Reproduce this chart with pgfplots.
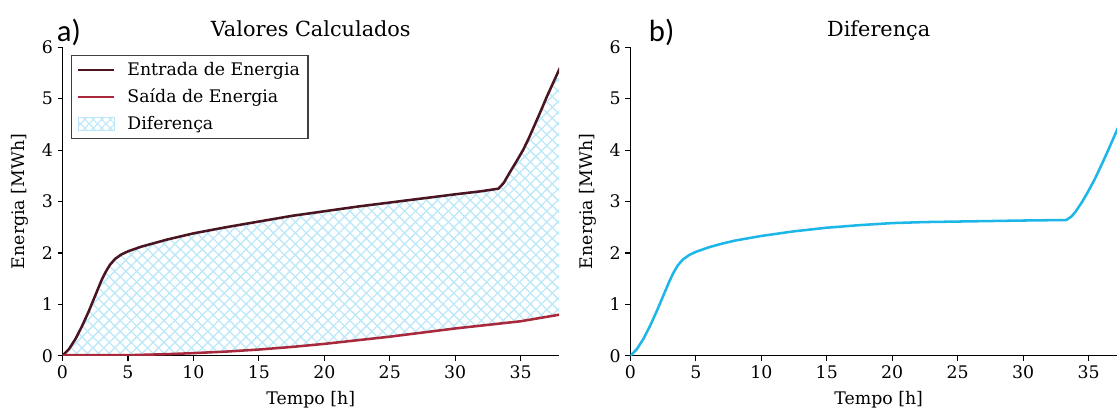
\documentclass[border=0pt]{standalone}
\usepackage{fontspec}
\setmainfont{DejaVu Serif}
\newfontfamily\labfont{Carlito}
\usepackage{pgfplots}
\pgfplotsset{compat=1.18}
\usepgfplotslibrary{fillbetween}
\usetikzlibrary{patterns.meta}
\definecolor{entr}{HTML}{4A1520}
\definecolor{said}{HTML}{A8283C}
\definecolor{difc}{HTML}{1DB6E8}
\definecolor{hatch}{HTML}{BDE8F8}

\pgfplotstableread{
x y
0 0
0.5 0.13
1 0.33
1.5 0.58
2 0.86
2.5 1.17
3 1.48
3.3 1.63
3.6 1.76
4 1.88
4.5 1.97
5 2.03
6 2.12
7 2.19
8 2.26
10 2.38
12.5 2.50
15 2.61
17.5 2.72
20 2.81
22.5 2.90
25 2.98
27.5 3.06
30 3.14
32 3.20
33.3 3.25
33.7 3.36
34.2 3.58
34.7 3.79
35.2 4.01
35.6 4.22
36 4.45
36.5 4.74
37 5.04
37.5 5.32
38 5.60
}\entrada

\pgfplotstableread{
x y
0 0.01
5 0.01
8 0.03
10 0.05
12.5 0.08
15 0.12
17.5 0.17
20 0.23
22.5 0.30
25 0.37
27.5 0.45
30 0.53
32.5 0.60
35 0.67
38 0.80
}\saida

\pgfplotstableread{
x y
0 0
0.5 0.13
1 0.33
1.5 0.58
2 0.86
2.5 1.16
3 1.46
3.3 1.62
3.6 1.75
4 1.87
4.5 1.96
5 2.02
6 2.11
7 2.18
8 2.24
10 2.33
12.5 2.42
15 2.49
17.5 2.54
20 2.58
22.5 2.60
25 2.61
27.5 2.62
30 2.63
33.3 2.64
33.7 2.71
34 2.80
34.5 2.99
35 3.21
35.5 3.45
36 3.72
36.5 4.00
37 4.29
37.5 4.58
38 4.88
}\diferenca

\pgfplotsset{
  myax/.style={
    scale only axis,
    width=372.4pt, height=231.3pt,
    xmin=0, xmax=37.93, ymin=0, ymax=6,
    axis x line*=bottom, axis y line*=left,
    axis line style={line width=0.9pt, black},
    tick align=outside,
    major tick length=3.75pt,
    tick style={line width=0.9pt, black},
    xtick={0,5,...,35}, ytick={0,1,...,6},
    /pgf/number format/assume math mode=true,
    tick label style={font=\fontsize{13}{15}\selectfont},
    label style={font=\fontsize{13}{15}\selectfont},
    xlabel={Tempo [h]}, ylabel={Energia [MWh]},
    xlabel style={at={(axis description cs:0.5,-0.1005)}, anchor=north},
    ylabel style={at={(axis description cs:-0.059,0.5)}, anchor=south},
    title style={at={(0.5,1)}, anchor=base, yshift=2pt, font=\fontsize{15.6}{18}\selectfont},
    clip=true,
  }
}

\begin{document}
\begin{tikzpicture}

\begin{axis}[myax, at={(46.875pt,39.225pt)}, anchor=south west,
  title={Valores Calculados},
  legend cell align=left,
  legend style={at={(0,1)}, anchor=north west, xshift=6.4pt, yshift=-6pt,
    draw=black!75, line width=0.8pt, font=\fontsize{13}{15}\selectfont,
    row sep=4.5pt, inner xsep=4pt, inner ysep=3pt,
    /tikz/every odd column/.append style={column sep=7pt}},
  legend image code/.code={\draw[#1] (0pt,0pt) -- (27pt,0pt);},
]
\addplot[name path=ent, color=entr, line width=1.9pt, line join=round] table {\entrada};
\addlegendentry{Entrada de Energia}
\addplot[name path=sai, color=said, line width=1.9pt, line join=round] table {\saida};
\addlegendentry{Saída de Energia}
\addplot[pattern={Lines[angle=45,distance=5.8pt,line width=1pt]}, pattern color=hatch, draw=none, forget plot] fill between[of=ent and sai];
\addplot[pattern={Lines[angle=-45,distance=5.8pt,line width=1pt]}, pattern color=hatch, draw=none, forget plot] fill between[of=ent and sai];
\addlegendimage{legend image code/.code={
  \path[pattern={Lines[angle=45,distance=4.5pt,line width=0.8pt]}, pattern color=hatch] (0pt,-5pt) rectangle (27pt,5pt);
  \path[pattern={Lines[angle=-45,distance=4.5pt,line width=0.8pt]}, pattern color=hatch] (0pt,-5pt) rectangle (27pt,5pt);
  \draw[hatch, line width=0.6pt] (0pt,-5pt) rectangle (27pt,5pt);}}
\addlegendentry{Diferença}
\end{axis}

\begin{axis}[myax, at={(472.8pt,39.225pt)}, anchor=south west,
  title={Diferença},
]
\addplot[color=difc, line width=1.9pt, line join=round] table {\diferenca};
\end{axis}

\node[anchor=base west, inner sep=0pt, font=\labfont\fontsize{23}{26}\selectfont] at (42.5pt,274.5pt) {a)};
\node[anchor=base west, inner sep=0pt, font=\labfont\fontsize{23}{26}\selectfont] at (486.5pt,274.5pt) {b)};

\pgfresetboundingbox
\path[use as bounding box] (0,0) rectangle (837.75pt,306pt);
\end{tikzpicture}
\end{document}
